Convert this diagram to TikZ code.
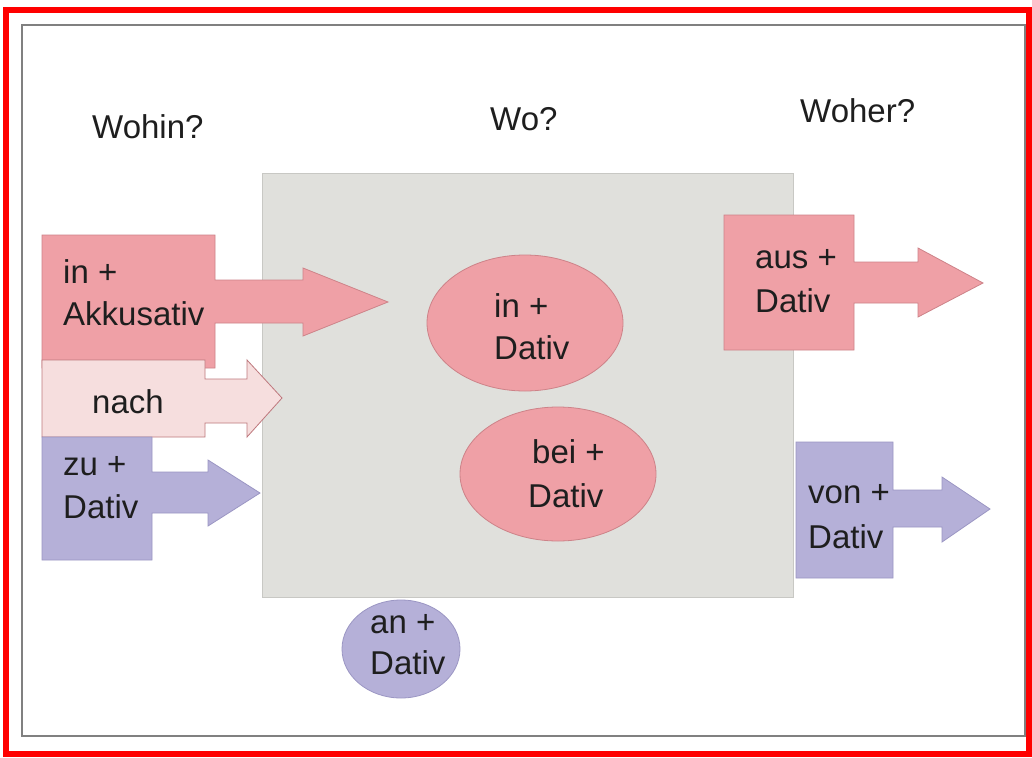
\documentclass[tikz,border=0pt]{standalone}
\usepackage{fontspec}
\setmainfont{Liberation Sans}
\definecolor{pk}{RGB}{239,160,166}
\definecolor{pkd}{RGB}{205,130,136}
\definecolor{pale}{RGB}{246,222,222}
\definecolor{paled}{RGB}{190,120,125}
\definecolor{lav}{RGB}{181,176,216}
\definecolor{lavd}{RGB}{155,150,195}
\definecolor{gbox}{RGB}{224,224,220}
\definecolor{gboxd}{RGB}{200,200,196}
\definecolor{txt}{RGB}{30,30,30}
\begin{document}
\begin{tikzpicture}[x=1pt,y=-1pt,
  lbl/.style={anchor=base west,inner sep=0pt,font=\fontsize{33}{40}\selectfont,text=txt},
  pinkshape/.style={fill=pk,draw=pkd,line width=0.8},
  paleshape/.style={fill=pale,draw=paled,line width=0.8},
  lavshape/.style={fill=lav,draw=lavd,line width=0.8}]
\useasboundingbox (0,0) rectangle (1032,757);
\fill[white] (0,0) rectangle (1032,757);
\draw[red,line width=6] (6,10) rectangle (1029,754);
\draw[gray,line width=1.5] (22,25) rectangle (1025,736);
% central grey box
\draw[fill=gbox,draw=gboxd,line width=0.8] (262,173) rectangle (793,597);
% left arrows
\draw[pinkshape] (42,235) -- (215,235) -- (215,280) -- (303,280) -- (303,268) -- (388,302) -- (303,336) -- (303,323) -- (215,323) -- (215,368) -- (42,368) -- cycle;
\draw[paleshape] (42,360) -- (205,360) -- (205,379) -- (247,379) -- (247,360) -- (282,398) -- (247,437) -- (247,423) -- (205,423) -- (205,437) -- (42,437) -- cycle;
\draw[lavshape] (42,437) -- (152,437) -- (152,472) -- (208,472) -- (208,460) -- (260,493) -- (208,526) -- (208,513) -- (152,513) -- (152,560) -- (42,560) -- cycle;
% right arrows
\draw[pinkshape] (724,215) -- (854,215) -- (854,262) -- (918,262) -- (918,248) -- (983,283) -- (918,317) -- (918,303) -- (854,303) -- (854,350) -- (724,350) -- cycle;
\draw[lavshape] (796,442) -- (893,442) -- (893,490) -- (942,490) -- (942,477) -- (990,509) -- (942,542) -- (942,527) -- (893,527) -- (893,578) -- (796,578) -- cycle;
% ellipses
\draw[pinkshape] (525,323) ellipse [x radius=98,y radius=68];
\draw[pinkshape] (558,474) ellipse [x radius=98,y radius=67];
\draw[lavshape] (401,649) ellipse [x radius=59,y radius=49];
% titles
\node[lbl] (wohin) at (92,138) {Wohin?};
\node[lbl] (wo) at (490,130) {Wo?};
\node[lbl] (woher) at (800,122) {Woher?};
% labels
\node[lbl] (l1a) at (63,283) {in +};
\node[lbl] (l1b) at (63,325) {Akkusativ};
\node[lbl] (l2) at (92,413) {nach};
\node[lbl] (l3a) at (63,475) {zu +};
\node[lbl] (l3b) at (63,518) {Dativ};
\node[lbl] (r1a) at (755,268) {aus +};
\node[lbl] (r1b) at (755,312) {Dativ};
\node[lbl] (r2a) at (808,503) {von +};
\node[lbl] (r2b) at (808,548) {Dativ};
\node[lbl] (e1a) at (494,317) {in +};
\node[lbl] (e1b) at (494,359) {Dativ};
\node[lbl] (e2a) at (532,463) {bei +};
\node[lbl] (e2b) at (528,507) {Dativ};
\node[lbl] (e3a) at (370,633) {an +};
\node[lbl] (e3b) at (370,674) {Dativ};
\end{tikzpicture}
\end{document}
